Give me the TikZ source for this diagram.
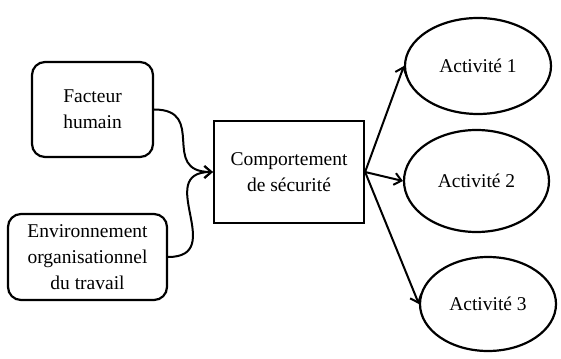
\documentclass[tikz,border=0pt]{standalone}
\usepackage{fontspec}
\setmainfont{Liberation Serif}
\usetikzlibrary{arrows.meta,shapes.geometric}
\begin{document}
\begin{tikzpicture}[x=1pt,y=-1pt,
  txt/.style={font=\fontsize{19.5}{26}\selectfont, align=center, inner sep=0pt, line width=2.2pt, draw=black},
  roundbox/.style={txt, rectangle, rounded corners=13pt},
  plainbox/.style={txt, rectangle},
  oval/.style={txt, ellipse},
  conn/.style={line width=2pt, -{Straight Barb[length=7pt,width=12pt,line width=2pt]}}
]
\useasboundingbox (0,0) rectangle (561,358);
\node[roundbox, minimum width=121pt, minimum height=95pt] (fh) at (92.5,109.5) {Facteur\\humain};
\node[roundbox, minimum width=159pt, minimum height=86pt] (env) at (87.5,257) {Environnement\\organisationnel\\du travail};
\node[plainbox, minimum width=150pt, minimum height=102pt] (cs) at (289,172) {Comportement\\de sécurité};
\node[oval, minimum width=146pt, minimum height=96pt] (a1) at (478,66) {Activité 1};
\node[oval, minimum width=145pt, minimum height=102pt] (a2) at (476.5,181) {Activité 2};
\node[oval, minimum width=136pt, minimum height=94pt] (a3) at (488,304) {Activité 3};
\draw[conn] (fh.east) to[out=0,in=180,looseness=1.6] (cs.west);
\draw[conn] (env.east) to[out=0,in=180,looseness=1.6] (cs.west);
\draw[conn] (cs.east) -- (a1.west);
\draw[conn] (cs.east) -- (a2.west);
\draw[conn] (cs.east) -- (a3.west);
\end{tikzpicture}
\end{document}
